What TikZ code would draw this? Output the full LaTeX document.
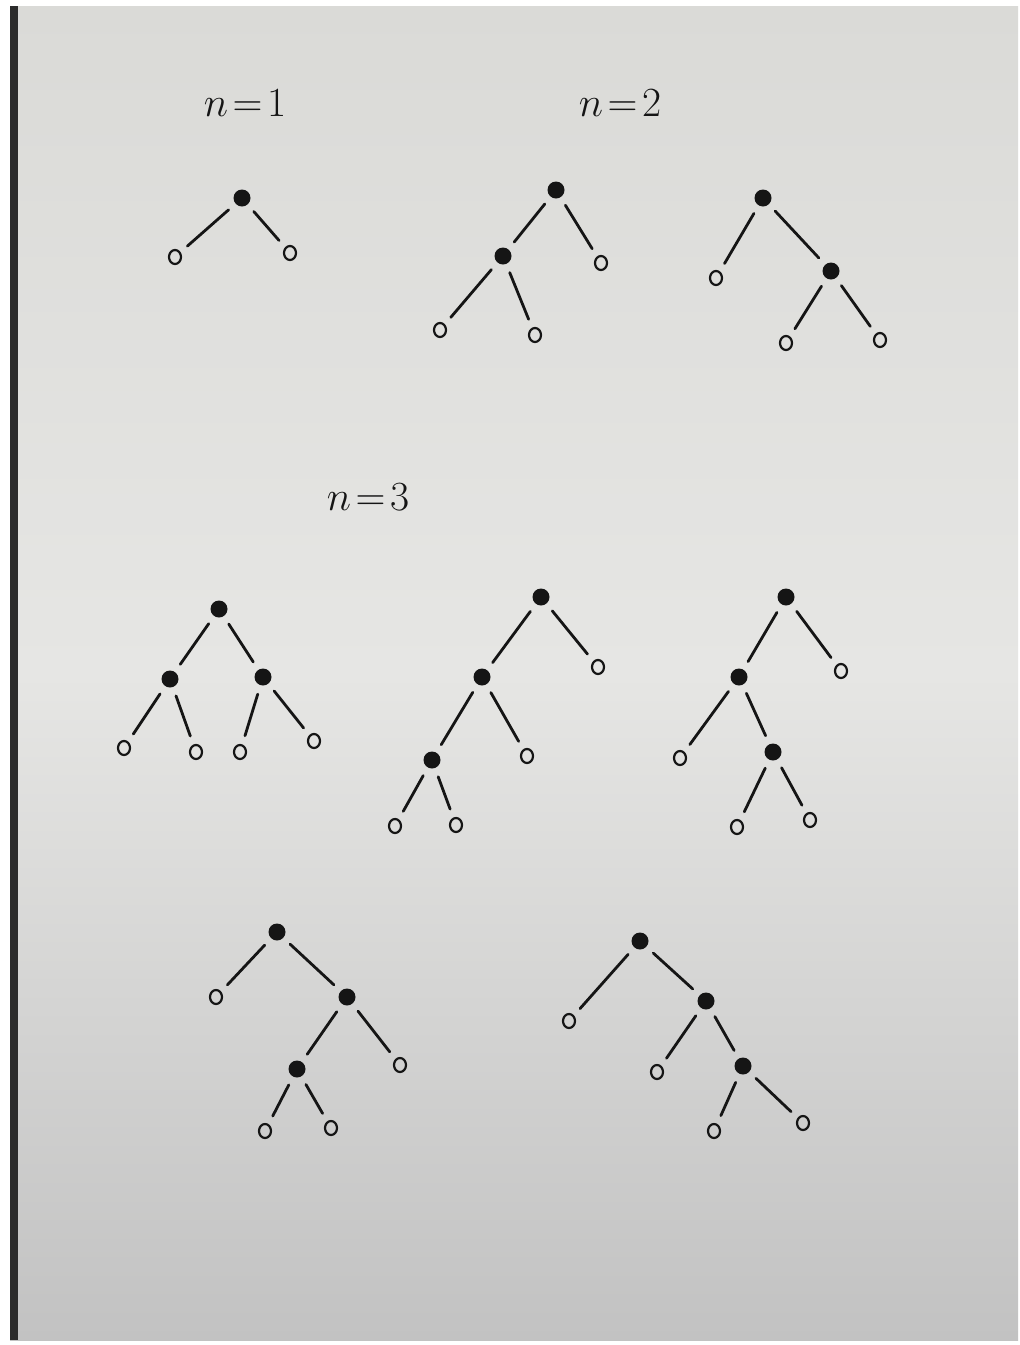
\documentclass[tikz,border=0pt]{standalone}
\usetikzlibrary{shapes.geometric}
\definecolor{ink}{HTML}{151515}
\definecolor{pagetop}{HTML}{DADAD7}
\definecolor{pagemid}{HTML}{E6E6E4}
\definecolor{pagebot}{HTML}{C2C2C2}
\tikzset{
  inner/.style={circle, fill=ink, minimum size=8.5pt, inner sep=0pt},
  leaf/.style={ellipse, draw=ink, line width=1.1pt, minimum width=6pt, minimum height=7pt, inner sep=0pt},
  edge/.style={draw=ink, line width=1.4pt, line cap=round, shorten >=4.5pt, shorten <=4.5pt},
  lbl/.style={text=ink, font=\fontsize{22}{26}\selectfont}
}
\begin{document}
\begin{tikzpicture}[x=0.5pt, y=-0.5pt]
\useasboundingbox (0,0) rectangle (1020,1345);
\fill[white] (0,0) rectangle (1020,1345);
\shade[top color=pagetop, bottom color=pagebot, middle color=pagemid] (10,6) rectangle (1018,1340);
\fill[ink!90] (10,6) rectangle (18,1340);

% labels
\node[lbl] (l1) at (245,103) {$n\!=\!1$};
\node[lbl] (l2) at (620,103) {$n\!=\!2$};
\node[lbl] (l3) at (368,497) {$n\!=\!3$};

% n=1
\node[inner] (a) at (242,198) {};
\node[leaf] (a1) at (175,257) {};
\node[leaf] (a2) at (290,253) {};
\draw[edge] (a) -- (a1); \draw[edge] (a) -- (a2);

% n=2 left
\node[inner] (b) at (556,190) {};
\node[inner] (b1) at (503,256) {};
\node[leaf] (b2) at (601,263) {};
\node[leaf] (b11) at (440,330) {};
\node[leaf] (b12) at (535,335) {};
\draw[edge] (b) -- (b1); \draw[edge] (b) -- (b2);
\draw[edge] (b1) -- (b11); \draw[edge] (b1) -- (b12);

% n=2 right
\node[inner] (c) at (763,198) {};
\node[leaf] (c1) at (716,278) {};
\node[inner] (c2) at (831,271) {};
\node[leaf] (c21) at (786,343) {};
\node[leaf] (c22) at (880,340) {};
\draw[edge] (c) -- (c1); \draw[edge] (c) -- (c2);
\draw[edge] (c2) -- (c21); \draw[edge] (c2) -- (c22);

% n=3 a
\node[inner] (d) at (219,609) {};
\node[inner] (d1) at (170,679) {};
\node[inner] (d2) at (263,677) {};
\node[leaf] (d11) at (124,748) {};
\node[leaf] (d12) at (196,752) {};
\node[leaf] (d21) at (240,752) {};
\node[leaf] (d22) at (314,741) {};
\draw[edge] (d) -- (d1); \draw[edge] (d) -- (d2);
\draw[edge] (d1) -- (d11); \draw[edge] (d1) -- (d12);
\draw[edge] (d2) -- (d21); \draw[edge] (d2) -- (d22);

% n=3 b
\node[inner] (e) at (541,597) {};
\node[inner] (e1) at (482,677) {};
\node[leaf] (e2) at (598,667) {};
\node[inner] (e11) at (432,760) {};
\node[leaf] (e12) at (527,756) {};
\node[leaf] (e111) at (395,826) {};
\node[leaf] (e112) at (456,825) {};
\draw[edge] (e) -- (e1); \draw[edge] (e) -- (e2);
\draw[edge] (e1) -- (e11); \draw[edge] (e1) -- (e12);
\draw[edge] (e11) -- (e111); \draw[edge] (e11) -- (e112);

% n=3 c
\node[inner] (f) at (786,597) {};
\node[inner] (f1) at (739,677) {};
\node[leaf] (f2) at (841,671) {};
\node[leaf] (f11) at (680,758) {};
\node[inner] (f12) at (773,752) {};
\node[leaf] (f121) at (737,827) {};
\node[leaf] (f122) at (810,820) {};
\draw[edge] (f) -- (f1); \draw[edge] (f) -- (f2);
\draw[edge] (f1) -- (f11); \draw[edge] (f1) -- (f12);
\draw[edge] (f12) -- (f121); \draw[edge] (f12) -- (f122);

% n=3 d
\node[inner] (g) at (277,932) {};
\node[leaf] (g1) at (216,997) {};
\node[inner] (g2) at (347,997) {};
\node[inner] (g21) at (297,1069) {};
\node[leaf] (g22) at (400,1065) {};
\node[leaf] (g211) at (265,1131) {};
\node[leaf] (g212) at (331,1128) {};
\draw[edge] (g) -- (g1); \draw[edge] (g) -- (g2);
\draw[edge] (g2) -- (g21); \draw[edge] (g2) -- (g22);
\draw[edge] (g21) -- (g211); \draw[edge] (g21) -- (g212);

% n=3 e
\node[inner] (h) at (640,941) {};
\node[leaf] (h1) at (569,1021) {};
\node[inner] (h2) at (706,1001) {};
\node[leaf] (h21) at (657,1072) {};
\node[inner] (h22) at (743,1066) {};
\node[leaf] (h221) at (714,1131) {};
\node[leaf] (h222) at (803,1123) {};
\draw[edge] (h) -- (h1); \draw[edge] (h) -- (h2);
\draw[edge] (h2) -- (h21); \draw[edge] (h2) -- (h22);
\draw[edge] (h22) -- (h221); \draw[edge] (h22) -- (h222);
\end{tikzpicture}
\end{document}
